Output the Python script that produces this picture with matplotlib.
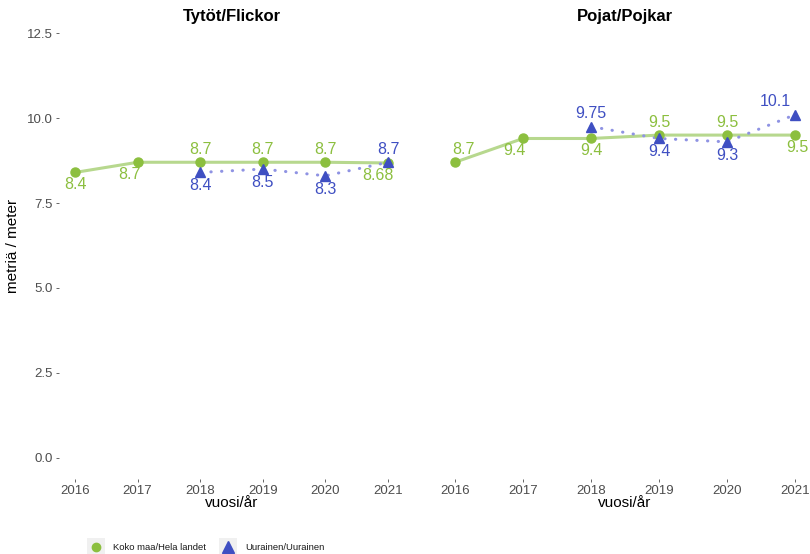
import matplotlib
matplotlib.use("Agg")
import matplotlib.pyplot as plt
from matplotlib.lines import Line2D
from matplotlib.patches import Rectangle

plt.rcParams["font.family"] = ["Liberation Sans", "DejaVu Sans"]

# --- data ---
years = [2016, 2017, 2018, 2019, 2020, 2021]
girls_nat = [8.4, 8.7, 8.7, 8.7, 8.7, 8.68]
boys_nat = [8.7, 9.4, 9.4, 9.5, 9.5, 9.5]
uur_years = [2018, 2019, 2020, 2021]
girls_uur = [8.4, 8.5, 8.3, 8.7]
boys_uur = [9.75, 9.4, 9.3, 10.1]
yticks = [0.0, 2.5, 5.0, 7.5, 10.0, 12.5]

# label placement (1 = above, -1 = below) and x nudges in points
girls_nat_side = [-1, -1, 1, 1, 1, -1]
girls_nat_dx = [0, -6, 0, 0, 0, -7]
girls_uur_side = [-1, -1, -1, 1]
girls_uur_dx = [0, 0, 0, 0]
boys_nat_side = [1, -1, -1, 1, 1, -1]
boys_nat_dx = [6, -6, 0, 0, 0, 2]
boys_uur_side = [1, -1, -1, 1]
boys_uur_dx = [0, 0, 0, -14]

GREEN = "#8cbf3f"
GREEN_LINE = "#b7d88e"
BLUE = "#3f4fc2"
BLUE_LINE = "#8f93e3"
TICK = "#4d4d4d"

W, H = 810, 554
fig = plt.figure(figsize=(8.1, 5.54), dpi=100)
ax_l = fig.add_axes([0.0733, 0.1354, 0.425, 0.843])
ax_r = fig.add_axes([0.5407, 0.1354, 0.4617, 0.843])


def fx(px):
    return px / W


def fy(py):
    return 1 - py / H


def draw_panel(ax, nat, nat_side, nat_dx, uur, uur_side, uur_dx, title, show_y):
    ax.plot(years, nat, color=GREEN_LINE, lw=2.2, zorder=1, solid_capstyle="butt")
    ax.plot(uur_years, uur, color=BLUE_LINE, lw=2.2, linestyle=(0, (0.1, 3.4)),
            zorder=1, dash_capstyle="round")
    ax.plot(years, nat, "o", color=GREEN, ms=6.5, zorder=3, clip_on=False)
    ax.plot(uur_years, uur, "^", color=BLUE, ms=7.5, zorder=3, clip_on=False)
    for x, y, s, dx in zip(years, nat, nat_side, nat_dx):
        ax.annotate(f"{y:g}", (x, y), xytext=(dx, 9 * s), textcoords="offset points",
                    ha="center", va="center", color=GREEN, fontsize=11.5,
                    annotation_clip=False)
    for x, y, s, dx in zip(uur_years, uur, uur_side, uur_dx):
        ax.annotate(f"{y:g}", (x, y), xytext=(dx, 9.5 * s), textcoords="offset points",
                    ha="center", va="center", color=BLUE, fontsize=11.5,
                    annotation_clip=False)
    ax.set_xlim(2015.75, 2021.25)
    ax.set_ylim(-0.625, 13.125)
    ax.set_xticks(years)
    ax.set_xticklabels([str(y) for y in years])
    ax.set_yticks(yticks)
    ax.set_yticklabels([f"{v:.1f}" for v in yticks])
    ax.tick_params(axis="both", length=2.5, width=0.6, color=TICK, labelcolor=TICK,
                   labelsize=9.5, pad=2)
    if not show_y:
        ax.tick_params(axis="y", left=False, labelleft=False)
    for sp in ax.spines.values():
        sp.set_visible(False)
    ax.set_facecolor("none")
    # panel title sits at the very top of the figure
    pos = ax.get_position()
    fig.text((pos.x0 + pos.x1) / 2, fy(16), title, fontsize=12, fontweight="bold",
             ha="center", va="center")
    ax.set_xlabel("vuosi/år", fontsize=11, labelpad=-1)


draw_panel(ax_l, girls_nat, girls_nat_side, girls_nat_dx,
           girls_uur, girls_uur_side, girls_uur_dx, "Tytöt/Flickor", True)
draw_panel(ax_r, boys_nat, boys_nat_side, boys_nat_dx,
           boys_uur, boys_uur_side, boys_uur_dx, "Pojat/Pojkar", False)
ax_l.set_ylabel("metriä / meter", fontsize=11, labelpad=5)

# --- legend (bottom) ---
for cx in (96, 228):
    fig.add_artist(Rectangle((fx(cx - 9), fy(556)), 18 / W, 18 / H,
                             transform=fig.transFigure, color="#f0f0f0", lw=0))
fig.add_artist(Line2D([fx(96)], [fy(547)], marker="o", color=GREEN, ms=6,
                      transform=fig.transFigure))
fig.add_artist(Line2D([fx(228)], [fy(547)], marker="^", color=BLUE, ms=8,
                      transform=fig.transFigure))
fig.text(fx(113), fy(547), "Koko maa/Hela landet", fontsize=6.8, va="center",
         color="#1a1a1a")
fig.text(fx(245), fy(547), "Uurainen/Uurainen", fontsize=6.8, va="center",
         color="#1a1a1a")

fig.savefig("out.png", dpi=100)
